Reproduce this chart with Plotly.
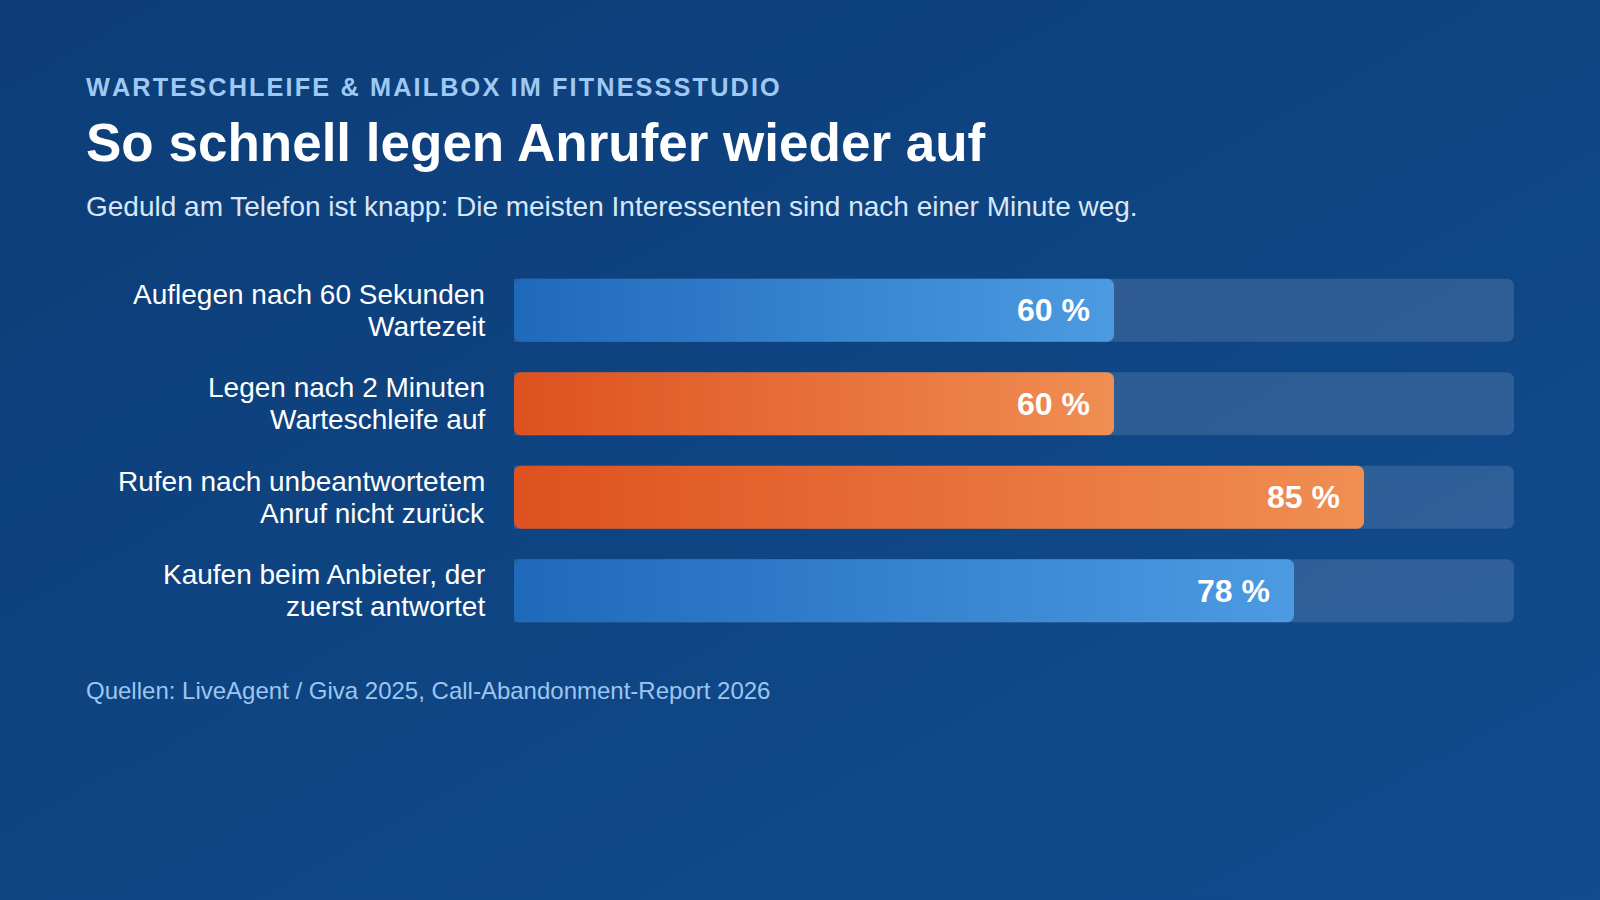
import base64
import math
import plotly.graph_objects as go

kicker = "WARTESCHLEIFE & MAILBOX IM FITNESSSTUDIO"
title = "So schnell legen Anrufer wieder auf"
subtitle = "Geduld am Telefon ist knapp: Die meisten Interessenten sind nach einer Minute weg."
source = "Quellen: LiveAgent / Giva 2025, Call-Abandonment-Report 2026"

categories = [
    "Auflegen nach 60 Sekunden<br>Wartezeit",
    "Legen nach 2 Minuten<br>Warteschleife auf",
    "Rufen nach unbeantwortetem<br>Anruf nicht zurück",
    "Kaufen beim Anbieter, der<br>zuerst antwortet",
]
values = [60, 60, 85, 78]
value_labels = ["60 %", "60 %", "85 %", "78 %"]
bar_kind = ["blue", "orange", "orange", "blue"]

gradients = {
    "blue": [[0, "#1f69ba"], [1, "#4c9be2"]],
    "orange": [[0, "#de5120"], [1, "#f08e53"]],
}

FONT = "Liberation Sans, Arial, Helvetica, sans-serif"
HALF = 0.337

# axis geometry (pixels)
X0_PX, X1_PX = 514, 1514
Y_DOM = (0.3, 0.7)
Y_RANGE = (3.42, -0.43)
px_per_x = (X1_PX - X0_PX) / 100.0
px_per_y = (Y_DOM[1] - Y_DOM[0]) * 900 / abs(Y_RANGE[0] - Y_RANGE[1])
RADIUS_PX = 7

fig = go.Figure()

# background track (100 %)
fig.add_trace(go.Bar(
    x=[100] * len(categories), y=list(range(len(categories))), orientation="h",
    width=2 * HALF, marker=dict(color="rgba(255,255,255,0.13)", cornerradius=7,
                                line=dict(width=0)),
    hoverinfo="skip", showlegend=False,
))


def rounded_rect(x0, x1, yc, half):
    rx = RADIUS_PX / px_per_x
    ry = RADIUS_PX / px_per_y
    corners = [
        (x1 - rx, yc - half + ry, -90, 0),
        (x1 - rx, yc + half - ry, 0, 90),
        (x0 + rx, yc + half - ry, 90, 180),
        (x0 + rx, yc - half + ry, 180, 270),
    ]
    xs, ys = [], []
    for cx, cy, a0, a1 in corners:
        for k in range(9):
            a = math.radians(a0 + (a1 - a0) * k / 8)
            xs.append(cx + rx * math.cos(a))
            ys.append(cy + ry * math.sin(a))
    xs.append(xs[0])
    ys.append(ys[0])
    return xs, ys


# value bars with horizontal gradient
for i, (v, kind) in enumerate(zip(values, bar_kind)):
    xs, ys = rounded_rect(0, v, i, HALF)
    fig.add_trace(go.Scatter(
        x=xs, y=ys, mode="lines", fill="toself",
        line=dict(width=0, color="rgba(0,0,0,0)"),
        fillgradient=dict(type="horizontal", colorscale=gradients[kind]),
        hoverinfo="skip", showlegend=False,
    ))

for i, (v, lab) in enumerate(zip(values, value_labels)):
    fig.add_annotation(x=v, y=i, xref="x", yref="y", text="<b>%s</b>" % lab,
                       showarrow=False, xanchor="right", yanchor="middle",
                       xshift=-22, font=dict(family=FONT, size=32, color="white"))

# category labels, right aligned, tight line spacing
for i, cat in enumerate(categories):
    lines = cat.split("<br>")
    n = len(lines)
    for j, line in enumerate(lines):
        fig.add_annotation(x=487 / 1600, y=i, xref="paper", yref="y", text=line,
                           showarrow=False, xanchor="right", yanchor="middle",
                           yshift=((n - 1) / 2 - j) * 32,
                           font=dict(family=FONT, size=28, color="white"))

svg = ('<svg xmlns="http://www.w3.org/2000/svg" width="1600" height="900">'
       '<defs><linearGradient id="g" x1="0" y1="0" x2="1" y2="1">'
       '<stop offset="0" stop-color="#0c3d77"/><stop offset="1" stop-color="#124c8f"/>'
       '</linearGradient></defs><rect width="1600" height="900" fill="url(#g)"/></svg>')
src = "data:image/svg+xml;base64," + base64.b64encode(svg.encode()).decode()

fig.update_layout(
    width=1600, height=900, margin=dict(l=0, r=0, t=0, b=0),
    paper_bgcolor="#0f4482", plot_bgcolor="rgba(0,0,0,0)",
    barmode="overlay",
    images=[dict(source=src, xref="paper", yref="paper", x=0, y=1, sizex=1, sizey=1,
                 sizing="stretch", layer="below")],
    xaxis=dict(domain=[X0_PX / 1600, X1_PX / 1600], range=[0, 100], visible=False, fixedrange=True),
    yaxis=dict(domain=list(Y_DOM), range=list(Y_RANGE), tickvals=list(range(len(categories))),
               showticklabels=False, showgrid=False, zeroline=False, showline=False,
               ticks="", fixedrange=True),
    showlegend=False,
)


def para(text, y, size, color, bold=False):
    fig.add_annotation(x=84 / 1600, y=1 - y / 900, xref="paper", yref="paper",
                       text=("<b>%s</b>" % text) if bold else text, showarrow=False,
                       xanchor="left", yanchor="middle",
                       font=dict(family=FONT, size=size, color=color))


spaced_kicker = "\u200a".join(kicker).replace("&", "&amp;")
para(spaced_kicker, 87, 25.3, "#9fc9f3", bold=True)
para(title, 143, 53, "white", bold=True)
para(subtitle, 206, 28, "#d8e7f8")
para(source, 690, 24, "#9cc6f0")

fig.write_html("out.html")
